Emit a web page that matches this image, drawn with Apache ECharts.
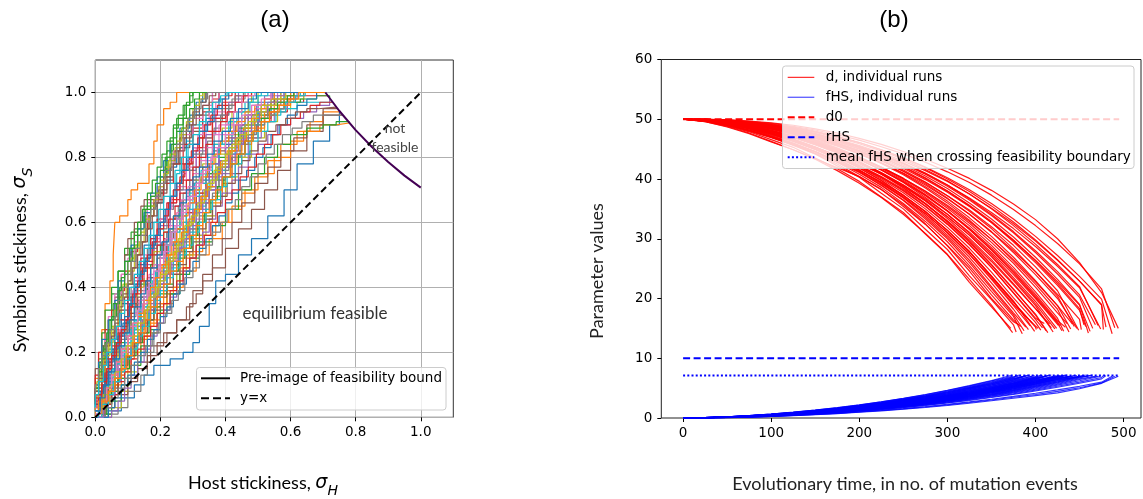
<!DOCTYPE html>
<html><head><meta charset="utf-8">
<script src="https://cdn.jsdelivr.net/npm/echarts@6/dist/echarts.min.js"></script>
<style>html,body{margin:0;padding:0;background:#fff}#c{width:1143px;height:499px}</style>
</head><body><div id="c"></div><script>
// ---------- Panel (a) data: host stickiness (x) vs symbiont stickiness (y), individual runs ----------
const hostRuns = [
 [[0.0,0.0],[0.04,0.02],[0.08,0.06],[0.12,0.1],[0.15,0.13],[0.18,0.16],[0.23,0.18],[0.27,0.2],[0.3,0.23],[0.32,0.28],[0.35,0.35],[0.37,0.42],[0.4,0.44],[0.44,0.5],[0.48,0.55],[0.53,0.62],[0.58,0.7],[0.62,0.78],[0.67,0.85],[0.72,0.9],[0.75,0.94]],
 [[0.0,0.05],[0.01,0.12],[0.02,0.2],[0.03,0.27],[0.045,0.35],[0.055,0.42],[0.06,0.5],[0.075,0.6],[0.1,0.62],[0.11,0.67],[0.13,0.7],[0.165,0.72],[0.18,0.78],[0.19,0.85],[0.21,0.9],[0.23,0.95],[0.25,0.97],[0.26,1.0],[0.707,1.0]],
 [[0.0,0.08],[0.01,0.15],[0.025,0.22],[0.04,0.3],[0.05,0.38],[0.07,0.45],[0.09,0.5],[0.11,0.57],[0.13,0.6],[0.15,0.65],[0.19,0.69],[0.21,0.75],[0.22,0.82],[0.24,0.9],[0.27,0.96],[0.29,1.0],[0.707,1.0]],
 [[0.0,0.02],[0.03,0.08],[0.05,0.15],[0.08,0.22],[0.1,0.28],[0.12,0.35],[0.15,0.4],[0.18,0.48],[0.2,0.54],[0.23,0.6],[0.26,0.67],[0.29,0.73],[0.32,0.8],[0.36,0.86],[0.39,0.92],[0.43,0.97],[0.46,1.0],[0.707,1.0]],
 [[0.01,0.0],[0.03,0.06],[0.06,0.12],[0.09,0.2],[0.12,0.27],[0.15,0.33],[0.18,0.4],[0.21,0.46],[0.24,0.52],[0.27,0.58],[0.3,0.64],[0.33,0.7],[0.37,0.77],[0.41,0.84],[0.45,0.9],[0.5,0.95],[0.54,1.0],[0.707,1.0]],
 [[0.02,0.0],[0.05,0.04],[0.09,0.08],[0.13,0.12],[0.17,0.17],[0.21,0.22],[0.25,0.26],[0.29,0.3],[0.31,0.35],[0.33,0.38],[0.36,0.42],[0.4,0.46],[0.44,0.52],[0.48,0.58],[0.52,0.64],[0.56,0.7],[0.6,0.76],[0.65,0.82],[0.7,0.88],[0.76,0.93]],
 [[0.0,0.06],[0.02,0.12],[0.04,0.2],[0.06,0.27],[0.08,0.33],[0.1,0.38],[0.12,0.44],[0.14,0.5],[0.17,0.55],[0.2,0.6],[0.22,0.66],[0.25,0.71],[0.28,0.77],[0.31,0.83],[0.34,0.88],[0.37,0.94],[0.4,1.0],[0.707,1.0]],
 [[0.03,0.0],[0.07,0.01],[0.1,0.03],[0.14,0.08],[0.16,0.13],[0.18,0.2],[0.2,0.26],[0.22,0.32],[0.25,0.38],[0.28,0.45],[0.3,0.5],[0.33,0.56],[0.36,0.62],[0.39,0.68],[0.42,0.74],[0.46,0.8],[0.5,0.86],[0.54,0.92],[0.58,0.97],[0.62,1.0],[0.707,1.0]],
 [[0.01,0.02],[0.03,0.05],[0.05,0.1],[0.07,0.16],[0.1,0.22],[0.13,0.28],[0.15,0.35],[0.17,0.41],[0.2,0.47],[0.23,0.53],[0.26,0.58],[0.28,0.63],[0.31,0.69],[0.34,0.75],[0.37,0.81],[0.4,0.87],[0.44,0.92],[0.47,0.97],[0.5,1.0],[0.707,1.0]],
 [[0.0,0.04],[0.02,0.09],[0.05,0.14],[0.07,0.2],[0.1,0.26],[0.12,0.32],[0.14,0.39],[0.16,0.45],[0.19,0.5],[0.21,0.56],[0.23,0.62],[0.25,0.68],[0.26,0.75],[0.28,0.8],[0.3,0.85],[0.33,0.9],[0.36,0.95],[0.39,1.0],[0.707,1.0]],
 [[0.0,0.01],[0.02,0.06],[0.04,0.12],[0.07,0.17],[0.09,0.24],[0.12,0.3],[0.14,0.37],[0.17,0.43],[0.2,0.5],[0.22,0.57],[0.25,0.62],[0.28,0.68],[0.31,0.73],[0.35,0.78],[0.38,0.84],[0.42,0.88],[0.46,0.93],[0.5,0.97],[0.55,1.0],[0.707,1.0]],
 [[0.02,0.01],[0.05,0.05],[0.08,0.1],[0.11,0.15],[0.14,0.2],[0.17,0.25],[0.2,0.3],[0.24,0.35],[0.27,0.4],[0.31,0.45],[0.35,0.5],[0.39,0.55],[0.42,0.6],[0.46,0.65],[0.5,0.7],[0.55,0.75],[0.6,0.8],[0.64,0.85],[0.69,0.88],[0.74,0.9],[0.78,0.906]],
 [[0.0,0.1],[0.01,0.18],[0.02,0.26],[0.03,0.33],[0.05,0.4],[0.07,0.45],[0.09,0.52],[0.12,0.58],[0.15,0.62],[0.17,0.68],[0.2,0.74],[0.22,0.8],[0.23,0.86],[0.25,0.92],[0.28,0.97],[0.3,1.0],[0.707,1.0]],
 [[0.01,0.03],[0.03,0.07],[0.06,0.13],[0.08,0.19],[0.11,0.25],[0.13,0.3],[0.16,0.36],[0.19,0.41],[0.22,0.47],[0.25,0.53],[0.28,0.58],[0.31,0.63],[0.34,0.69],[0.38,0.74],[0.42,0.79],[0.46,0.84],[0.5,0.88],[0.54,0.91],[0.59,0.94],[0.64,0.97],[0.7,0.99],[0.715,0.99]],
 [[0.0,0.05],[0.02,0.1],[0.03,0.17],[0.05,0.24],[0.08,0.3],[0.1,0.36],[0.12,0.42],[0.15,0.47],[0.18,0.53],[0.2,0.59],[0.23,0.65],[0.26,0.7],[0.29,0.76],[0.31,0.82],[0.34,0.87],[0.37,0.93],[0.41,0.97],[0.44,1.0],[0.707,1.0]],
 [[0.0,0.08],[0.02,0.15],[0.04,0.22],[0.06,0.3],[0.08,0.37],[0.09,0.44],[0.1,0.5],[0.12,0.55],[0.14,0.6],[0.15,0.65],[0.19,0.67],[0.22,0.69],[0.24,0.73],[0.26,0.78],[0.29,0.83],[0.32,0.88],[0.35,0.93],[0.38,0.97],[0.41,1.0],[0.707,1.0]],
 [[0.01,0.0],[0.03,0.05],[0.05,0.11],[0.08,0.17],[0.11,0.22],[0.13,0.28],[0.16,0.33],[0.19,0.39],[0.22,0.44],[0.25,0.5],[0.28,0.55],[0.31,0.61],[0.34,0.67],[0.37,0.73],[0.4,0.79],[0.43,0.85],[0.46,0.9],[0.49,0.95],[0.52,0.98],[0.56,1.0],[0.707,1.0]],
 [[0.0,0.03],[0.02,0.08],[0.05,0.13],[0.07,0.19],[0.09,0.26],[0.11,0.33],[0.13,0.4],[0.16,0.46],[0.19,0.52],[0.22,0.58],[0.24,0.64],[0.27,0.7],[0.3,0.76],[0.33,0.81],[0.36,0.86],[0.39,0.91],[0.42,0.95],[0.46,0.98],[0.49,1.0],[0.707,1.0]],
 [[0.02,0.0],[0.05,0.03],[0.08,0.08],[0.1,0.14],[0.13,0.2],[0.16,0.26],[0.19,0.32],[0.22,0.38],[0.25,0.44],[0.28,0.5],[0.31,0.56],[0.34,0.62],[0.37,0.68],[0.4,0.74],[0.44,0.8],[0.48,0.86],[0.52,0.91],[0.56,0.95],[0.6,0.98],[0.64,1.0],[0.707,1.0]],
 [[0.0,0.02],[0.03,0.06],[0.06,0.11],[0.09,0.17],[0.12,0.23],[0.15,0.28],[0.18,0.34],[0.21,0.4],[0.24,0.45],[0.27,0.51],[0.3,0.57],[0.32,0.63],[0.35,0.68],[0.38,0.73],[0.41,0.78],[0.44,0.83],[0.48,0.87],[0.52,0.9],[0.57,0.93],[0.62,0.95],[0.68,0.97],[0.73,0.97]],
 [[0.0,0.07],[0.02,0.14],[0.04,0.21],[0.06,0.28],[0.08,0.35],[0.1,0.41],[0.13,0.47],[0.15,0.53],[0.17,0.6],[0.19,0.66],[0.21,0.72],[0.23,0.77],[0.25,0.83],[0.28,0.88],[0.3,0.93],[0.32,0.97],[0.34,1.0],[0.707,1.0]],
 [[0.01,0.01],[0.04,0.05],[0.07,0.09],[0.1,0.14],[0.13,0.19],[0.16,0.24],[0.19,0.29],[0.22,0.35],[0.26,0.4],[0.29,0.46],[0.33,0.51],[0.37,0.56],[0.41,0.6],[0.45,0.64],[0.49,0.69],[0.53,0.74],[0.57,0.79],[0.62,0.84],[0.66,0.88],[0.7,0.91],[0.75,0.94]],
 [[0.0,0.04],[0.02,0.1],[0.04,0.16],[0.06,0.23],[0.09,0.29],[0.11,0.35],[0.14,0.41],[0.17,0.47],[0.2,0.53],[0.23,0.58],[0.26,0.64],[0.29,0.7],[0.32,0.75],[0.36,0.8],[0.4,0.85],[0.44,0.89],[0.48,0.93],[0.53,0.95],[0.58,0.97],[0.63,0.98],[0.68,0.99],[0.72,0.98]],
 [[0.0,0.06],[0.01,0.13],[0.03,0.2],[0.05,0.27],[0.07,0.33],[0.09,0.39],[0.11,0.45],[0.13,0.51],[0.16,0.56],[0.18,0.62],[0.21,0.67],[0.24,0.72],[0.27,0.78],[0.3,0.84],[0.33,0.89],[0.36,0.94],[0.38,0.98],[0.4,1.0],[0.707,1.0]],
 [[0.01,0.02],[0.04,0.07],[0.06,0.13],[0.09,0.18],[0.12,0.24],[0.14,0.3],[0.17,0.35],[0.2,0.41],[0.23,0.47],[0.26,0.52],[0.29,0.58],[0.32,0.64],[0.35,0.7],[0.39,0.75],[0.43,0.81],[0.47,0.86],[0.51,0.91],[0.55,0.95],[0.59,0.98],[0.62,1.0],[0.707,1.0]],
 [[0.03,0.0],[0.06,0.03],[0.1,0.07],[0.13,0.11],[0.16,0.15],[0.19,0.19],[0.22,0.23],[0.25,0.26],[0.28,0.3],[0.3,0.34],[0.33,0.39],[0.36,0.44],[0.39,0.5],[0.42,0.55],[0.45,0.6],[0.49,0.66],[0.53,0.72],[0.57,0.77],[0.61,0.82],[0.65,0.86],[0.7,0.9],[0.745,0.95]],
 [[0.0,0.09],[0.01,0.16],[0.03,0.24],[0.04,0.31],[0.06,0.38],[0.08,0.44],[0.1,0.49],[0.12,0.54],[0.14,0.6],[0.16,0.66],[0.19,0.71],[0.21,0.77],[0.24,0.82],[0.27,0.87],[0.3,0.92],[0.33,0.96],[0.36,1.0],[0.707,1.0]],
 [[0.01,0.0],[0.04,0.04],[0.07,0.09],[0.09,0.15],[0.12,0.21],[0.14,0.27],[0.17,0.32],[0.2,0.38],[0.23,0.43],[0.26,0.49],[0.29,0.54],[0.32,0.6],[0.35,0.66],[0.38,0.71],[0.41,0.76],[0.45,0.82],[0.49,0.87],[0.53,0.92],[0.57,0.96],[0.61,0.98],[0.66,1.0],[0.707,1.0]],
 [[0.0,0.03],[0.02,0.09],[0.04,0.15],[0.07,0.21],[0.09,0.27],[0.11,0.34],[0.13,0.4],[0.15,0.46],[0.18,0.51],[0.21,0.57],[0.24,0.62],[0.27,0.67],[0.3,0.73],[0.33,0.78],[0.36,0.84],[0.39,0.89],[0.42,0.94],[0.45,0.97],[0.48,1.0],[0.707,1.0]],
 [[0.0,0.0],[0.03,0.04],[0.05,0.1],[0.08,0.15],[0.11,0.21],[0.13,0.26],[0.16,0.32],[0.19,0.37],[0.22,0.43],[0.25,0.49],[0.28,0.54],[0.31,0.6],[0.34,0.65],[0.37,0.71],[0.4,0.76],[0.43,0.81],[0.46,0.86],[0.5,0.9],[0.54,0.94],[0.58,0.97],[0.63,0.99],[0.67,1.0],[0.707,1.0]],
 [[0.0,0.1],[0.01,0.17],[0.02,0.24],[0.04,0.3],[0.06,0.36],[0.07,0.42],[0.09,0.48],[0.11,0.53],[0.13,0.58],[0.15,0.63],[0.17,0.69],[0.19,0.74],[0.21,0.79],[0.23,0.84],[0.26,0.89],[0.29,0.93],[0.31,0.97],[0.33,1.0],[0.707,1.0]],
 [[0.0,0.0],[0.03,0.03],[0.06,0.08],[0.09,0.13],[0.12,0.18],[0.15,0.23],[0.18,0.28],[0.21,0.34],[0.24,0.39],[0.27,0.44],[0.3,0.49],[0.33,0.55],[0.36,0.6],[0.39,0.66],[0.42,0.72],[0.45,0.78],[0.48,0.84],[0.52,0.89],[0.56,0.93],[0.6,0.96],[0.64,0.99],[0.68,1.0],[0.707,1.0]],
 [[0.02,0.01],[0.05,0.05],[0.08,0.1],[0.11,0.16],[0.14,0.22],[0.17,0.27],[0.2,0.33],[0.23,0.38],[0.26,0.44],[0.29,0.49],[0.32,0.54],[0.36,0.59],[0.4,0.64],[0.44,0.7],[0.48,0.75],[0.52,0.8],[0.56,0.84],[0.6,0.87],[0.65,0.89],[0.7,0.9],[0.74,0.91],[0.78,0.906]],
 [[0.01,0.05],[0.03,0.11],[0.05,0.18],[0.07,0.24],[0.1,0.3],[0.12,0.37],[0.14,0.43],[0.17,0.49],[0.19,0.55],[0.22,0.61],[0.25,0.66],[0.27,0.72],[0.3,0.78],[0.33,0.83],[0.36,0.88],[0.4,0.92],[0.43,0.96],[0.47,0.99],[0.51,1.0],[0.707,1.0]],
 [[0.0,0.02],[0.02,0.07],[0.05,0.12],[0.07,0.18],[0.1,0.24],[0.13,0.31],[0.15,0.37],[0.18,0.42],[0.21,0.48],[0.24,0.54],[0.27,0.6],[0.29,0.66],[0.32,0.72],[0.35,0.78],[0.38,0.83],[0.41,0.88],[0.44,0.92],[0.48,0.96],[0.52,0.99],[0.57,1.0],[0.707,1.0]],
 [[0.0,0.04],[0.03,0.09],[0.05,0.15],[0.08,0.2],[0.1,0.26],[0.13,0.32],[0.16,0.37],[0.19,0.43],[0.21,0.49],[0.24,0.55],[0.27,0.61],[0.3,0.67],[0.33,0.72],[0.36,0.77],[0.4,0.82],[0.43,0.86],[0.47,0.9],[0.51,0.93],[0.55,0.96],[0.6,0.98],[0.65,1.0],[0.707,1.0]],
 [[0,0.03],[0.01,0.07],[0.025,0.1],[0.035,0.15],[0.05,0.19],[0.065,0.22],[0.075,0.27],[0.09,0.3],[0.105,0.34],[0.115,0.39],[0.13,0.43],[0.15,0.46],[0.16,0.5],[0.175,0.54],[0.19,0.57],[0.2,0.61],[0.22,0.64],[0.235,0.68],[0.25,0.72],[0.265,0.75],[0.28,0.79],[0.3,0.83],[0.315,0.87],[0.33,0.9],[0.35,0.94],[0.37,0.97],[0.38,1.0],[0.707,1.0]],
 [[0.01,0.0],[0.02,0.04],[0.035,0.08],[0.05,0.12],[0.065,0.16],[0.08,0.2],[0.095,0.24],[0.11,0.27],[0.125,0.31],[0.14,0.35],[0.155,0.39],[0.17,0.42],[0.19,0.46],[0.205,0.5],[0.22,0.54],[0.24,0.57],[0.255,0.61],[0.27,0.65],[0.29,0.69],[0.31,0.73],[0.325,0.77],[0.345,0.81],[0.365,0.85],[0.385,0.89],[0.41,0.93],[0.43,0.96],[0.455,0.99],[0.47,1.0],[0.707,1.0]],
 [[0,0.06],[0.01,0.1],[0.02,0.14],[0.03,0.19],[0.045,0.23],[0.055,0.28],[0.07,0.32],[0.08,0.37],[0.095,0.41],[0.11,0.45],[0.12,0.5],[0.135,0.54],[0.15,0.58],[0.165,0.62],[0.18,0.67],[0.195,0.71],[0.21,0.75],[0.225,0.79],[0.245,0.83],[0.26,0.87],[0.28,0.91],[0.3,0.95],[0.32,0.98],[0.335,1.0],[0.707,1.0]],
 [[0.01,0.01],[0.025,0.05],[0.04,0.09],[0.06,0.12],[0.075,0.16],[0.09,0.19],[0.11,0.23],[0.125,0.27],[0.14,0.3],[0.16,0.34],[0.175,0.38],[0.19,0.42],[0.21,0.45],[0.225,0.49],[0.245,0.53],[0.26,0.57],[0.28,0.6],[0.3,0.64],[0.32,0.68],[0.34,0.72],[0.36,0.76],[0.38,0.8],[0.4,0.84],[0.425,0.87],[0.45,0.91],[0.475,0.94],[0.5,0.97],[0.53,0.99],[0.55,1.0],[0.707,1.0]],
 [[0,0.04],[0.015,0.08],[0.03,0.12],[0.04,0.17],[0.055,0.21],[0.07,0.25],[0.085,0.29],[0.1,0.33],[0.11,0.37],[0.125,0.41],[0.14,0.45],[0.155,0.49],[0.17,0.53],[0.185,0.56],[0.2,0.6],[0.215,0.64],[0.23,0.68],[0.25,0.72],[0.265,0.76],[0.285,0.8],[0.3,0.84],[0.32,0.88],[0.34,0.92],[0.36,0.95],[0.38,0.98],[0.4,1.0],[0.707,1.0]],
 [[0.02,0.0],[0.035,0.03],[0.05,0.07],[0.07,0.1],[0.085,0.14],[0.1,0.18],[0.12,0.21],[0.14,0.25],[0.155,0.29],[0.17,0.33],[0.19,0.36],[0.21,0.4],[0.225,0.44],[0.245,0.48],[0.265,0.51],[0.285,0.55],[0.3,0.59],[0.32,0.63],[0.34,0.67],[0.36,0.71],[0.385,0.75],[0.405,0.79],[0.43,0.82],[0.455,0.86],[0.48,0.89],[0.51,0.92],[0.54,0.95],[0.57,0.97],[0.6,0.99],[0.63,1.0],[0.707,1.0]],
 [[0,0.08],[0.01,0.12],[0.015,0.17],[0.025,0.21],[0.035,0.26],[0.045,0.3],[0.055,0.35],[0.07,0.39],[0.08,0.43],[0.09,0.48],[0.105,0.52],[0.12,0.56],[0.13,0.6],[0.145,0.64],[0.16,0.69],[0.175,0.73],[0.19,0.77],[0.205,0.81],[0.22,0.85],[0.24,0.89],[0.255,0.93],[0.275,0.96],[0.29,0.99],[0.3,1.0],[0.707,1.0]],
 [[0.01,0.02],[0.02,0.06],[0.035,0.1],[0.045,0.14],[0.06,0.18],[0.075,0.22],[0.09,0.26],[0.1,0.3],[0.115,0.34],[0.13,0.38],[0.145,0.42],[0.16,0.46],[0.175,0.5],[0.19,0.54],[0.21,0.58],[0.225,0.62],[0.24,0.66],[0.26,0.7],[0.275,0.74],[0.295,0.78],[0.315,0.82],[0.335,0.86],[0.355,0.9],[0.375,0.93],[0.4,0.96],[0.42,0.99],[0.44,1.0],[0.707,1.0]],
 [[0.015,0.0],[0.03,0.04],[0.045,0.08],[0.06,0.11],[0.08,0.15],[0.095,0.19],[0.11,0.22],[0.13,0.26],[0.145,0.3],[0.16,0.34],[0.18,0.37],[0.195,0.41],[0.21,0.45],[0.23,0.49],[0.25,0.52],[0.265,0.56],[0.285,0.6],[0.3,0.64],[0.32,0.68],[0.34,0.71],[0.36,0.75],[0.38,0.79],[0.4,0.83],[0.42,0.86],[0.445,0.9],[0.47,0.93],[0.495,0.96],[0.52,0.98],[0.545,1.0],[0.707,1.0]],
 [[0,0.05],[0.01,0.09],[0.02,0.13],[0.035,0.17],[0.045,0.22],[0.06,0.26],[0.07,0.3],[0.085,0.34],[0.1,0.38],[0.11,0.42],[0.125,0.46],[0.14,0.5],[0.155,0.54],[0.165,0.58],[0.18,0.62],[0.195,0.66],[0.21,0.7],[0.23,0.74],[0.245,0.78],[0.26,0.82],[0.28,0.86],[0.3,0.9],[0.32,0.94],[0.34,0.97],[0.36,1.0],[0.707,1.0]],
 [[0.005,0.01],[0.02,0.05],[0.03,0.09],[0.045,0.13],[0.06,0.17],[0.075,0.21],[0.09,0.25],[0.105,0.28],[0.12,0.32],[0.135,0.36],[0.15,0.4],[0.165,0.44],[0.18,0.47],[0.2,0.51],[0.215,0.55],[0.23,0.59],[0.25,0.63],[0.265,0.67],[0.285,0.71],[0.3,0.75],[0.32,0.79],[0.34,0.83],[0.36,0.87],[0.38,0.9],[0.405,0.94],[0.43,0.97],[0.45,0.99],[0.47,1.0],[0.707,1.0]],
 [[0.02,0.01],[0.04,0.04],[0.055,0.08],[0.075,0.11],[0.09,0.15],[0.11,0.18],[0.13,0.22],[0.145,0.26],[0.165,0.29],[0.185,0.33],[0.2,0.37],[0.22,0.4],[0.24,0.44],[0.26,0.47],[0.28,0.51],[0.3,0.55],[0.32,0.58],[0.34,0.62],[0.36,0.66],[0.38,0.69],[0.4,0.73],[0.42,0.77],[0.445,0.8],[0.47,0.84],[0.495,0.87],[0.52,0.9],[0.55,0.93],[0.58,0.95],[0.61,0.97],[0.64,0.99],[0.67,1.0],[0.707,1.0]],
 [[0,0.07],[0.005,0.11],[0.015,0.15],[0.025,0.2],[0.04,0.24],[0.05,0.28],[0.06,0.33],[0.075,0.37],[0.085,0.41],[0.1,0.45],[0.11,0.49],[0.125,0.53],[0.14,0.57],[0.155,0.61],[0.17,0.65],[0.185,0.69],[0.2,0.73],[0.215,0.77],[0.23,0.81],[0.25,0.85],[0.265,0.89],[0.285,0.92],[0.305,0.96],[0.32,0.99],[0.33,1.0],[0.707,1.0]],
 [[0.01,0.0],[0.025,0.04],[0.04,0.07],[0.055,0.11],[0.07,0.15],[0.085,0.18],[0.1,0.22],[0.12,0.26],[0.135,0.3],[0.15,0.33],[0.165,0.37],[0.185,0.41],[0.2,0.45],[0.215,0.49],[0.235,0.53],[0.25,0.57],[0.27,0.61],[0.29,0.65],[0.305,0.69],[0.325,0.72],[0.345,0.76],[0.365,0.8],[0.39,0.84],[0.41,0.88],[0.435,0.91],[0.46,0.94],[0.485,0.97],[0.51,0.99],[0.53,1.0],[0.707,1.0]],
 [[0,0.02],[0.015,0.06],[0.025,0.1],[0.04,0.14],[0.05,0.18],[0.065,0.23],[0.08,0.27],[0.09,0.31],[0.105,0.35],[0.12,0.4],[0.135,0.44],[0.15,0.48],[0.165,0.52],[0.18,0.56],[0.195,0.6],[0.21,0.64],[0.23,0.68],[0.245,0.72],[0.265,0.76],[0.28,0.8],[0.3,0.84],[0.32,0.88],[0.345,0.91],[0.365,0.95],[0.39,0.98],[0.41,1.0],[0.707,1.0]],
 [[0.02,0.02],[0.035,0.06],[0.05,0.09],[0.065,0.13],[0.08,0.17],[0.1,0.2],[0.115,0.24],[0.13,0.28],[0.15,0.31],[0.165,0.35],[0.18,0.39],[0.2,0.43],[0.215,0.46],[0.235,0.5],[0.25,0.54],[0.27,0.58],[0.285,0.62],[0.305,0.66],[0.325,0.7],[0.345,0.74],[0.365,0.78],[0.385,0.81],[0.41,0.85],[0.435,0.88],[0.46,0.91],[0.49,0.94],[0.52,0.96],[0.55,0.98],[0.58,1.0],[0.707,1.0]],
 [[0,0.09],[0.01,0.14],[0.02,0.18],[0.03,0.23],[0.04,0.27],[0.05,0.31],[0.065,0.35],[0.075,0.4],[0.09,0.44],[0.1,0.48],[0.115,0.52],[0.13,0.56],[0.14,0.6],[0.155,0.64],[0.17,0.68],[0.185,0.72],[0.2,0.76],[0.215,0.8],[0.235,0.84],[0.25,0.88],[0.27,0.92],[0.29,0.95],[0.305,0.98],[0.32,1.0],[0.707,1.0]],
 [[0.005,0.03],[0.02,0.07],[0.035,0.11],[0.05,0.15],[0.065,0.19],[0.08,0.23],[0.095,0.27],[0.11,0.3],[0.125,0.34],[0.14,0.38],[0.16,0.42],[0.175,0.46],[0.19,0.5],[0.21,0.53],[0.225,0.57],[0.245,0.61],[0.26,0.65],[0.28,0.69],[0.3,0.73],[0.32,0.77],[0.34,0.8],[0.36,0.84],[0.385,0.88],[0.405,0.91],[0.43,0.94],[0.455,0.97],[0.48,0.99],[0.5,1.0],[0.707,1.0]],
 [[0.03,0.0],[0.05,0.02],[0.07,0.05],[0.09,0.09],[0.11,0.13],[0.13,0.17],[0.15,0.21],[0.17,0.25],[0.19,0.29],[0.21,0.33],[0.23,0.37],[0.25,0.41],[0.27,0.45],[0.29,0.49],[0.31,0.53],[0.33,0.57],[0.35,0.61],[0.37,0.65],[0.39,0.69],[0.42,0.73],[0.44,0.77],[0.47,0.81],[0.5,0.84],[0.53,0.87],[0.56,0.9],[0.6,0.92],[0.64,0.94],[0.68,0.96],[0.72,0.98]],
 [[0,0.04],[0.01,0.08],[0.025,0.12],[0.035,0.16],[0.05,0.2],[0.06,0.25],[0.075,0.29],[0.09,0.33],[0.1,0.37],[0.115,0.41],[0.13,0.46],[0.145,0.5],[0.16,0.54],[0.175,0.58],[0.19,0.62],[0.205,0.66],[0.22,0.7],[0.24,0.74],[0.255,0.78],[0.275,0.82],[0.295,0.86],[0.31,0.9],[0.33,0.93],[0.35,0.96],[0.37,0.99],[0.385,1.0],[0.707,1.0]],
 [[0.01,0.01],[0.025,0.05],[0.04,0.08],[0.055,0.12],[0.07,0.16],[0.085,0.2],[0.1,0.24],[0.115,0.28],[0.13,0.32],[0.145,0.35],[0.16,0.39],[0.18,0.43],[0.195,0.47],[0.21,0.51],[0.23,0.55],[0.245,0.59],[0.265,0.63],[0.28,0.67],[0.3,0.71],[0.32,0.75],[0.34,0.79],[0.36,0.83],[0.38,0.87],[0.4,0.9],[0.425,0.94],[0.45,0.97],[0.47,0.99],[0.49,1.0],[0.707,1.0]],
 [[0,0.06],[0.01,0.1],[0.02,0.15],[0.035,0.19],[0.045,0.23],[0.06,0.27],[0.07,0.31],[0.085,0.36],[0.1,0.4],[0.11,0.44],[0.125,0.48],[0.14,0.52],[0.155,0.56],[0.17,0.6],[0.185,0.64],[0.2,0.68],[0.215,0.72],[0.235,0.76],[0.25,0.8],[0.27,0.84],[0.285,0.88],[0.305,0.92],[0.325,0.95],[0.345,0.98],[0.36,1.0],[0.707,1.0]],
 [[0.015,0.01],[0.03,0.04],[0.045,0.08],[0.06,0.12],[0.08,0.15],[0.095,0.19],[0.11,0.23],[0.13,0.27],[0.145,0.3],[0.16,0.34],[0.18,0.38],[0.195,0.42],[0.215,0.45],[0.23,0.49],[0.25,0.53],[0.27,0.57],[0.29,0.6],[0.305,0.64],[0.325,0.68],[0.345,0.72],[0.365,0.76],[0.39,0.79],[0.41,0.83],[0.435,0.86],[0.46,0.9],[0.485,0.93],[0.51,0.96],[0.54,0.98],[0.57,1.0],[0.707,1.0]],
 [[0,0.03],[0.01,0.07],[0.025,0.11],[0.035,0.16],[0.05,0.2],[0.065,0.24],[0.075,0.28],[0.09,0.32],[0.105,0.36],[0.12,0.4],[0.135,0.44],[0.15,0.48],[0.165,0.52],[0.18,0.56],[0.195,0.6],[0.21,0.64],[0.23,0.68],[0.245,0.72],[0.265,0.76],[0.285,0.8],[0.3,0.84],[0.32,0.87],[0.34,0.91],[0.36,0.94],[0.385,0.97],[0.405,0.99],[0.42,1.0],[0.707,1.0]],
 [[0.02,0.0],[0.04,0.03],[0.06,0.06],[0.08,0.1],[0.1,0.13],[0.12,0.17],[0.14,0.2],[0.16,0.24],[0.18,0.27],[0.2,0.31],[0.22,0.34],[0.24,0.38],[0.26,0.41],[0.28,0.45],[0.3,0.48],[0.32,0.52],[0.34,0.55],[0.36,0.59],[0.38,0.62],[0.4,0.66],[0.42,0.69],[0.44,0.73],[0.465,0.76],[0.49,0.8],[0.515,0.83],[0.54,0.87],[0.565,0.9],[0.59,0.93],[0.62,0.96],[0.65,0.98],[0.68,1.0],[0.707,1.0]],
 [[0.01,0.02],[0.03,0.05],[0.05,0.09],[0.065,0.13],[0.08,0.17],[0.1,0.21],[0.115,0.25],[0.13,0.29],[0.15,0.32],[0.17,0.36],[0.185,0.4],[0.205,0.43],[0.225,0.47],[0.245,0.5],[0.265,0.54],[0.285,0.57],[0.305,0.61],[0.325,0.64],[0.345,0.68],[0.37,0.71],[0.39,0.75],[0.415,0.78],[0.44,0.82],[0.465,0.85],[0.49,0.88],[0.52,0.91],[0.55,0.94],[0.58,0.96],[0.61,0.98],[0.64,1.0],[0.707,1.0]],
 [[0.02,0.01],[0.035,0.04],[0.05,0.08],[0.07,0.12],[0.09,0.15],[0.105,0.19],[0.125,0.23],[0.145,0.26],[0.165,0.3],[0.18,0.34],[0.2,0.38],[0.22,0.41],[0.24,0.45],[0.255,0.49],[0.275,0.52],[0.295,0.56],[0.315,0.6],[0.335,0.63],[0.355,0.67],[0.375,0.71],[0.395,0.74],[0.415,0.78],[0.44,0.81],[0.46,0.85],[0.485,0.88],[0.51,0.92],[0.535,0.95],[0.56,0.97],[0.59,0.99],[0.61,1.0],[0.707,1.0]],
 [[0.03,0.01],[0.05,0.04],[0.07,0.07],[0.09,0.11],[0.11,0.14],[0.13,0.18],[0.15,0.21],[0.17,0.25],[0.19,0.28],[0.21,0.32],[0.23,0.35],[0.25,0.39],[0.27,0.42],[0.29,0.46],[0.31,0.49],[0.335,0.53],[0.355,0.56],[0.375,0.6],[0.4,0.63],[0.42,0.67],[0.445,0.7],[0.47,0.74],[0.495,0.77],[0.52,0.81],[0.545,0.84],[0.57,0.87],[0.6,0.9],[0.63,0.92],[0.66,0.94],[0.69,0.96],[0.73,0.97]],
 [[0.01,0.0],[0.025,0.04],[0.04,0.07],[0.06,0.11],[0.075,0.15],[0.095,0.18],[0.11,0.22],[0.13,0.26],[0.145,0.3],[0.165,0.33],[0.18,0.37],[0.2,0.41],[0.22,0.44],[0.235,0.48],[0.255,0.52],[0.275,0.55],[0.29,0.59],[0.31,0.63],[0.33,0.66],[0.35,0.7],[0.37,0.74],[0.39,0.77],[0.41,0.81],[0.435,0.84],[0.455,0.88],[0.48,0.91],[0.505,0.94],[0.53,0.97],[0.56,0.99],[0.58,1.0],[0.707,1.0]],
 [[0.02,0.02],[0.04,0.05],[0.06,0.09],[0.08,0.12],[0.1,0.16],[0.12,0.19],[0.14,0.23],[0.16,0.26],[0.18,0.3],[0.2,0.33],[0.22,0.37],[0.24,0.4],[0.26,0.44],[0.28,0.47],[0.3,0.51],[0.32,0.54],[0.34,0.58],[0.36,0.61],[0.385,0.65],[0.405,0.68],[0.43,0.72],[0.45,0.75],[0.475,0.79],[0.5,0.82],[0.525,0.85],[0.555,0.88],[0.585,0.9],[0.615,0.92],[0.65,0.94],[0.685,0.95],[0.74,0.955]],
 [[0.0,0.01],[0.02,0.05],[0.035,0.09],[0.05,0.13],[0.065,0.17],[0.08,0.21],[0.1,0.25],[0.115,0.29],[0.13,0.33],[0.15,0.37],[0.165,0.41],[0.18,0.45],[0.2,0.49],[0.215,0.53],[0.235,0.57],[0.25,0.61],[0.27,0.65],[0.29,0.68],[0.31,0.72],[0.33,0.76],[0.355,0.8],[0.375,0.83],[0.4,0.87],[0.425,0.9],[0.45,0.93],[0.48,0.96],[0.51,0.98],[0.54,1.0],[0.707,1.0]],
 [[0.03,0.0],[0.05,0.03],[0.07,0.06],[0.09,0.09],[0.11,0.12],[0.13,0.16],[0.155,0.19],[0.175,0.22],[0.195,0.26],[0.215,0.29],[0.235,0.32],[0.255,0.36],[0.275,0.39],[0.3,0.43],[0.32,0.46],[0.34,0.5],[0.36,0.53],[0.385,0.57],[0.405,0.6],[0.43,0.64],[0.45,0.67],[0.475,0.71],[0.5,0.74],[0.525,0.78],[0.55,0.81],[0.575,0.84],[0.605,0.87],[0.635,0.89],[0.67,0.91],[0.71,0.93],[0.76,0.93]],
 [[0.01,0.03],[0.025,0.07],[0.045,0.1],[0.06,0.14],[0.08,0.18],[0.095,0.22],[0.115,0.25],[0.13,0.29],[0.15,0.33],[0.165,0.37],[0.185,0.4],[0.2,0.44],[0.22,0.48],[0.24,0.51],[0.255,0.55],[0.275,0.59],[0.295,0.62],[0.315,0.66],[0.335,0.7],[0.355,0.73],[0.375,0.77],[0.4,0.81],[0.42,0.84],[0.445,0.87],[0.47,0.91],[0.495,0.94],[0.525,0.96],[0.555,0.98],[0.585,1.0],[0.707,1.0]],
 [[0.02,0.0],[0.04,0.04],[0.055,0.07],[0.075,0.11],[0.09,0.14],[0.11,0.18],[0.13,0.21],[0.145,0.25],[0.165,0.28],[0.185,0.32],[0.2,0.36],[0.22,0.39],[0.24,0.43],[0.26,0.46],[0.28,0.5],[0.3,0.53],[0.32,0.57],[0.34,0.6],[0.36,0.64],[0.385,0.67],[0.405,0.71],[0.43,0.74],[0.45,0.78],[0.475,0.81],[0.5,0.85],[0.53,0.88],[0.555,0.91],[0.585,0.94],[0.615,0.97],[0.645,0.99],[0.67,1.0],[0.707,1.0]],
 [[0.0,0.02],[0.015,0.06],[0.03,0.1],[0.045,0.14],[0.06,0.18],[0.075,0.22],[0.09,0.26],[0.105,0.3],[0.12,0.34],[0.14,0.38],[0.155,0.42],[0.17,0.46],[0.19,0.5],[0.205,0.54],[0.225,0.58],[0.24,0.62],[0.26,0.66],[0.28,0.7],[0.3,0.74],[0.32,0.77],[0.345,0.81],[0.365,0.85],[0.39,0.88],[0.415,0.92],[0.44,0.95],[0.47,0.98],[0.495,1.0],[0.707,1.0]],
 [[0.02,0.01],[0.04,0.05],[0.06,0.08],[0.08,0.12],[0.095,0.15],[0.115,0.19],[0.135,0.23],[0.155,0.26],[0.17,0.3],[0.19,0.34],[0.21,0.37],[0.23,0.41],[0.25,0.45],[0.27,0.48],[0.29,0.52],[0.31,0.56],[0.33,0.59],[0.35,0.63],[0.37,0.67],[0.39,0.7],[0.415,0.74],[0.435,0.78],[0.46,0.81],[0.485,0.85],[0.51,0.88],[0.535,0.91],[0.565,0.94],[0.595,0.96],[0.625,0.98],[0.66,1.0],[0.707,1.0]]
];
const boundCurve = [[0.707,1.0],[0.75,0.943],[0.8,0.884],[0.85,0.832],[0.9,0.786],[0.95,0.744],[1.0,0.707]];
const diagonal = [[0,0],[1,1]];
const ticksA = [0,0.2,0.4,0.6,0.8,1.0];

// ---------- Panel (b) data: parameter values vs evolutionary time ----------
const sampleTimes = [0,25,50,75,100,125,150,175,200,225,250,275,300,325,350,375,400,425,450,475];
const runEnds = [372,378,381,385,389,392,396,399,403,406,410,414,418,422,426,430,434,438,442,447,452,457,462,468,474,480,487,494,
                 374,383,387,394,401,408,412,416,420,424,428,432,436,440,444,449,455,460,465,471,477,490];
const dEnd = [15.0,14.4,15.6,14.1,15.2,14.8,15.9,14.5,15.0,14.7,15.8,14.3,15.1,14.9,15.5,14.6,15.2,14.4,15.7,15.0,14.8,15.3,14.5,15.6,14.9,15.2,14.1,15.0,
              14.3,15.3,14.6,15.4,14.8,15.1,14.6,15.7,14.4,15.0,15.4,14.5,15.8,14.9,15.3,14.7,15.6,14.2,15.0,15.5,14.8,15.1];
const fEnd = [7.1,7.0,7.2,6.9,7.1,7.2,7.0,7.1,6.9,7.2,7.0,7.1,7.2,6.9,7.0,7.1,7.2,7.0,6.9,7.1,7.0,7.2,7.1,7.0,7.0,7.1,7.0,7.0,
              7.0,7.1,7.0,7.2,7.0,7.1,7.0,7.2,6.9,7.1,7.1,7.0,7.2,7.0,7.1,6.9,7.1,7.0,7.2,7.0,7.1,7.0];
const dRuns = [
 [50,49.7,48.9,47.9,46.6,45.3,43.5,41.7,39.6,37.0,34.4,30.8,27.3,22.7,18.6],
 [50,49.8,49.1,48.2,47.0,45.6,44.2,42.2,40.3,37.6,35.0,31.6,28.2,23.8,19.8,15.6],
 [50,49.6,48.7,47.6,46.2,44.9,43.4,41.9,40.4,38.2,35.7,32.5,28.8,24.6,20.0,16.1],
 [50,49.9,49.2,48.4,47.3,46.0,44.6,42.8,40.8,38.6,35.9,32.9,29.5,25.5,21.2,17.0],
 [50,49.7,49.0,48.0,46.9,45.7,44.3,42.8,41.1,39.0,36.5,33.6,30.3,26.4,22.0,17.6],
 [50,49.8,49.3,48.6,47.6,46.4,45.0,43.4,41.5,39.3,36.8,33.9,30.6,26.9,22.6,18.2],
 [50,49.7,49.1,48.2,47.1,45.9,44.6,43.1,41.4,39.5,37.3,34.6,31.4,27.8,23.7,19.4],
 [50,49.9,49.4,48.7,47.8,46.7,45.3,43.7,41.9,39.8,37.3,34.5,31.4,27.9,23.8,19.6],
 [50,49.8,49.3,48.5,47.5,46.3,44.9,43.3,41.5,39.4,37.0,34.2,31.0,27.4,23.4,19.0,15.4],
 [50,49.9,49.5,48.8,47.9,46.7,45.4,43.9,42.1,40.0,37.7,35.0,31.9,28.4,24.4,20.1,16.0],
 [50,49.7,49.2,48.4,47.4,46.3,45.0,43.6,42.0,40.2,38.0,35.4,32.4,29.0,25.2,21.0,16.7],
 [50,49.9,49.6,49.0,48.2,47.2,46.0,44.6,42.9,40.9,38.6,35.9,32.8,29.4,25.6,21.5,17.4],
 [50,49.8,49.3,48.6,47.7,46.6,45.3,43.9,42.3,40.4,38.3,35.8,33.0,29.8,26.2,22.3,18.3],
 [50,49.9,49.5,48.9,48.1,47.1,45.9,44.5,42.9,41.1,39.0,36.5,33.7,30.6,27.1,23.2,19.1],
 [50,49.8,49.4,48.7,47.9,46.9,45.7,44.3,42.8,41.0,39.0,36.7,34.1,31.1,27.7,24.0,20.0],
 [50,49.9,49.6,49.1,48.4,47.5,46.4,45.1,43.6,41.8,39.8,37.4,34.7,31.6,28.1,24.3,20.2,15.9],
 [50,49.9,49.5,48.9,48.1,47.2,46.1,44.8,43.3,41.6,39.6,37.3,34.7,31.8,28.5,24.8,20.7,16.3],
 [50,50,49.7,49.2,48.6,47.8,46.8,45.6,44.2,42.6,40.7,38.5,36.0,33.1,29.9,26.3,22.4,18.2],
 [50,49.8,49.4,48.8,48.0,47.1,46.1,44.9,43.5,41.9,40.1,38.0,35.6,32.9,29.9,26.5,22.8,18.8],
 [50,49.9,49.7,49.2,48.6,47.9,47.0,45.9,44.6,43.1,41.3,39.2,36.8,34.1,31.1,27.7,24.0,20.0],
 [50,49.9,49.6,49.1,48.4,47.6,46.6,45.5,44.2,42.7,41.0,39.0,36.7,34.1,31.2,28.0,24.5,20.7,16.5],
 [50,50,49.8,49.4,48.9,48.2,47.3,46.3,45.1,43.7,42.1,40.2,38.0,35.5,32.7,29.5,26.0,22.2,18.0],
 [50,49.9,49.7,49.3,48.7,48.0,47.1,46.0,44.8,43.4,41.8,39.9,37.8,35.4,32.7,29.7,26.4,22.8,18.9],
 [50,50,49.8,49.5,49.0,48.4,47.6,46.6,45.5,44.2,42.7,41.0,39.0,36.7,34.1,31.2,28.0,24.5,20.6],
 [50,49.9,49.7,49.4,48.9,48.2,47.4,46.5,45.4,44.1,42.6,40.9,39.0,36.8,34.4,31.7,28.7,25.4,21.8],
 [50,50,49.9,49.6,49.2,48.7,48.0,47.1,46.1,44.9,43.5,41.9,40.0,37.9,35.5,32.8,29.8,26.5,22.9,18.9],
 [50,50,49.8,49.5,49.1,48.6,47.9,47.1,46.1,44.9,43.6,42.0,40.2,38.2,35.9,33.3,30.4,27.2,23.7,19.9],
 [50,50,49.9,49.7,49.4,49.0,48.4,47.7,46.8,45.8,44.6,43.3,41.8,40.1,38.1,35.8,33.2,30.0,26.0,21.0],
 [50,49.6,48.8,47.7,46.3,44.9,43.3,41.4,39.3,36.9,34.1,30.9,27.4,23.2,18.9],
 [50,49.8,49.0,48.1,47.1,45.8,44.2,42.5,40.4,38.3,35.4,32.4,28.9,25.1,20.6,16.4],
 [50,49.9,49.3,48.4,47.2,46.0,44.6,43.0,41.2,38.9,36.4,33.3,30.0,26.0,21.7,17.3],
 [50,49.7,49.0,48.1,47.0,45.8,44.5,42.9,41.2,39.2,36.9,34.2,31.0,27.4,23.2,18.8],
 [50,49.9,49.4,48.7,47.7,46.6,45.2,43.6,41.8,39.7,37.2,34.5,31.4,27.8,23.7,19.4,15.2],
 [50,49.8,49.3,48.6,47.6,46.5,45.2,43.8,42.2,40.3,38.1,35.5,32.5,29.1,25.2,20.9,16.5],
 [50,49.8,49.4,48.8,48.0,47.0,45.8,44.4,42.7,40.8,38.5,35.9,32.9,29.6,25.7,21.6,17.2],
 [50,49.9,49.5,48.9,48.0,47.0,45.9,44.5,42.9,41.0,38.8,36.3,33.4,30.1,26.5,22.5,18.3],
 [50,49.7,49.2,48.5,47.6,46.5,45.3,44.0,42.5,40.8,38.8,36.4,33.7,30.6,27.0,23.0,18.8],
 [50,49.9,49.6,49.0,48.3,47.4,46.3,44.9,43.3,41.5,39.4,36.9,34.1,30.9,27.4,23.5,19.5],
 [50,49.9,49.5,48.8,48.0,47.1,46.0,44.7,43.2,41.5,39.5,37.2,34.6,31.6,28.2,24.5,20.4,16.1],
 [50,50,49.7,49.2,48.5,47.6,46.5,45.2,43.7,42.0,40.0,37.7,35.1,32.2,28.9,25.2,21.1,16.7],
 [50,49.8,49.4,48.8,48.0,47.2,46.2,45.0,43.6,42.0,40.1,37.9,35.4,32.6,29.4,25.9,21.9,17.6],
 [50,49.9,49.6,49.1,48.5,47.7,46.8,45.7,44.3,42.7,40.9,38.7,36.3,33.5,30.4,26.9,23.0,18.8],
 [50,50,49.7,49.3,48.7,48.0,47.1,46.0,44.7,43.2,41.5,39.5,37.2,34.6,31.7,28.3,24.5,20.4],
 [50,49.9,49.6,49.1,48.5,47.8,46.9,45.8,44.5,43.0,41.3,39.4,37.2,34.8,32.0,28.9,25.3,21.3],
 [50,49.9,49.7,49.3,48.8,48.1,47.2,46.2,45.0,43.6,42.0,40.1,38.0,35.6,32.9,29.8,26.3,22.5,18.3],
 [50,50,49.8,49.5,49.0,48.3,47.5,46.5,45.3,43.9,42.3,40.5,38.4,36.0,33.3,30.3,26.9,23.2,19.0],
 [50,49.9,49.7,49.4,48.9,48.2,47.4,46.4,45.3,44.0,42.5,40.8,38.8,36.5,33.9,31.0,27.7,24.1,20.2],
 [50,50,49.8,49.5,49.1,48.5,47.8,46.9,45.9,44.7,43.3,41.6,39.7,37.5,35.0,32.2,29.1,25.7,22.0],
 [50,49.9,49.8,49.5,49.0,48.4,47.6,46.7,45.6,44.4,43.0,41.4,39.6,37.5,35.1,32.5,29.6,26.4,22.9,19.0],
 [50,50,49.9,49.6,49.3,48.8,48.2,47.4,46.5,45.4,44.2,42.8,41.2,39.4,37.3,34.9,32.2,29.2,25.8,21.6]
];
const fRuns = [
 [0,0.08,0.22,0.42,0.68,0.98,1.33,1.74,2.2,2.72,3.3,3.94,4.65,5.42,6.25],
 [0,0.07,0.2,0.4,0.65,0.94,1.28,1.68,2.13,2.63,3.2,3.82,4.5,5.25,6.05,6.9],
 [0,0.06,0.19,0.38,0.62,0.9,1.24,1.63,2.07,2.57,3.12,3.73,4.4,5.13,5.93,6.8],
 [0,0.07,0.2,0.38,0.61,0.88,1.2,1.57,2.0,2.48,3.02,3.62,4.28,5.0,5.78,6.62],
 [0,0.06,0.18,0.36,0.59,0.86,1.17,1.53,1.95,2.42,2.95,3.54,4.19,4.9,5.67,6.5],
 [0,0.06,0.18,0.35,0.57,0.84,1.15,1.5,1.91,2.37,2.89,3.47,4.11,4.81,5.57,6.4],
 [0,0.06,0.17,0.34,0.56,0.82,1.12,1.47,1.87,2.32,2.83,3.4,4.03,4.72,5.47,6.28],
 [0,0.05,0.16,0.33,0.55,0.8,1.1,1.44,1.83,2.27,2.77,3.33,3.95,4.63,5.37,6.17],
 [0,0.05,0.16,0.32,0.53,0.78,1.07,1.4,1.78,2.21,2.7,3.25,3.86,4.53,5.26,6.05,6.85],
 [0,0.05,0.15,0.31,0.52,0.76,1.05,1.38,1.75,2.17,2.65,3.19,3.79,4.45,5.17,5.95,6.8],
 [0,0.05,0.15,0.3,0.5,0.74,1.02,1.34,1.71,2.12,2.59,3.12,3.71,4.36,5.07,5.84,6.67],
 [0,0.05,0.14,0.29,0.49,0.72,1.0,1.31,1.67,2.08,2.54,3.06,3.64,4.28,4.98,5.74,6.56],
 [0,0.04,0.14,0.29,0.48,0.71,0.98,1.28,1.63,2.03,2.48,2.99,3.56,4.19,4.88,5.63,6.44],
 [0,0.04,0.13,0.28,0.47,0.69,0.96,1.26,1.6,1.99,2.43,2.93,3.49,4.11,4.79,5.53,6.33],
 [0,0.04,0.13,0.27,0.46,0.68,0.94,1.23,1.57,1.95,2.38,2.87,3.42,4.03,4.7,5.43,6.22],
 [0,0.04,0.13,0.27,0.45,0.67,0.92,1.21,1.54,1.91,2.33,2.81,3.35,3.95,4.61,5.33,6.11,6.95],
 [0,0.04,0.12,0.26,0.44,0.65,0.9,1.19,1.51,1.88,2.29,2.76,3.29,3.88,4.53,5.24,6.01,6.84],
 [0,0.04,0.12,0.25,0.43,0.64,0.88,1.16,1.48,1.84,2.25,2.71,3.23,3.81,4.45,5.15,5.91,6.73],
 [0,0.04,0.12,0.25,0.42,0.62,0.86,1.14,1.45,1.8,2.2,2.65,3.16,3.73,4.36,5.05,5.8,6.61],
 [0,0.03,0.11,0.24,0.41,0.61,0.84,1.11,1.42,1.76,2.15,2.59,3.09,3.65,4.27,4.95,5.69,6.49],
 [0,0.03,0.11,0.23,0.4,0.59,0.82,1.09,1.39,1.73,2.11,2.54,3.03,3.58,4.19,4.86,5.59,6.38,6.9],
 [0,0.03,0.11,0.23,0.39,0.58,0.8,1.06,1.35,1.68,2.05,2.47,2.94,3.47,4.06,4.71,5.42,6.19,6.95],
 [0,0.03,0.1,0.22,0.38,0.56,0.78,1.03,1.32,1.64,2.0,2.4,2.86,3.37,3.94,4.57,5.26,6.01,6.82],
 [0,0.03,0.1,0.21,0.36,0.54,0.75,0.99,1.27,1.58,1.93,2.32,2.76,3.25,3.8,4.4,5.06,5.78,6.56],
 [0,0.03,0.09,0.2,0.34,0.51,0.71,0.94,1.2,1.5,1.84,2.22,2.64,3.11,3.63,4.2,4.82,5.5,6.24],
 [0,0.02,0.08,0.18,0.31,0.47,0.66,0.88,1.13,1.42,1.74,2.1,2.5,2.94,3.43,3.96,4.53,5.15,5.82,6.55],
 [0,0.02,0.07,0.16,0.28,0.43,0.61,0.82,1.05,1.31,1.6,1.93,2.3,2.7,3.14,3.62,4.14,4.7,5.3,6.0],
 [0,0.02,0.06,0.14,0.25,0.39,0.55,0.74,0.95,1.19,1.46,1.76,2.1,2.47,2.88,3.3,3.75,4.2,4.9,5.8],
 [0,0.08,0.21,0.41,0.67,0.97,1.32,1.72,2.18,2.7,3.27,3.9,4.6,5.36,6.18],
 [0,0.07,0.19,0.38,0.62,0.89,1.22,1.6,2.03,2.52,3.07,3.68,4.35,5.08,5.87,6.72],
 [0,0.06,0.19,0.37,0.6,0.87,1.19,1.55,1.97,2.45,2.99,3.58,4.24,4.96,5.74,6.58],
 [0,0.06,0.18,0.35,0.57,0.83,1.14,1.49,1.89,2.34,2.86,3.44,4.07,4.77,5.52,6.34],
 [0,0.05,0.16,0.32,0.54,0.79,1.08,1.42,1.8,2.24,2.74,3.29,3.9,4.58,5.31,6.11,6.95],
 [0,0.05,0.15,0.3,0.51,0.75,1.03,1.36,1.73,2.15,2.62,3.15,3.75,4.4,5.12,5.9,6.73],
 [0,0.05,0.14,0.3,0.5,0.73,1.01,1.32,1.69,2.1,2.56,3.09,3.67,4.32,5.03,5.79,6.61],
 [0,0.04,0.14,0.29,0.48,0.71,0.99,1.3,1.65,2.05,2.51,3.02,3.6,4.23,4.93,5.68,6.5],
 [0,0.04,0.13,0.28,0.47,0.7,0.97,1.27,1.62,2.01,2.46,2.96,3.52,4.15,4.84,5.58,6.39],
 [0,0.04,0.13,0.28,0.46,0.69,0.95,1.24,1.58,1.97,2.4,2.9,3.45,4.07,4.75,5.48,6.28],
 [0,0.04,0.13,0.27,0.45,0.67,0.93,1.22,1.55,1.93,2.35,2.84,3.38,3.99,4.66,5.38,6.17,7.0],
 [0,0.04,0.12,0.26,0.44,0.66,0.91,1.2,1.53,1.9,2.31,2.78,3.32,3.92,4.57,5.29,6.06,6.9],
 [0,0.04,0.12,0.25,0.43,0.64,0.89,1.17,1.49,1.86,2.27,2.73,3.26,3.84,4.49,5.2,5.96,6.78],
 [0,0.04,0.12,0.25,0.42,0.63,0.87,1.15,1.46,1.82,2.22,2.68,3.19,3.77,4.4,5.1,5.85,6.67],
 [0,0.03,0.11,0.24,0.41,0.62,0.85,1.12,1.43,1.78,2.18,2.62,3.12,3.69,4.31,5.0,5.74,6.55],
 [0,0.03,0.11,0.23,0.4,0.6,0.83,1.1,1.4,1.75,2.13,2.57,3.06,3.61,4.23,4.9,5.64,6.44],
 [0,0.03,0.11,0.23,0.39,0.58,0.81,1.07,1.36,1.7,2.07,2.49,2.97,3.51,4.1,4.76,5.48,6.26,7.0],
 [0,0.03,0.1,0.22,0.38,0.56,0.78,1.04,1.33,1.65,2.02,2.43,2.89,3.41,3.98,4.62,5.32,6.08,6.9],
 [0,0.03,0.1,0.21,0.37,0.55,0.76,1.01,1.29,1.61,1.96,2.36,2.81,3.31,3.87,4.49,5.17,5.91,6.71],
 [0,0.03,0.09,0.2,0.35,0.52,0.73,0.96,1.23,1.54,1.88,2.26,2.69,3.17,3.71,4.3,4.95,5.66,6.43],
 [0,0.02,0.08,0.19,0.32,0.49,0.68,0.91,1.16,1.45,1.78,2.15,2.56,3.01,3.51,4.06,4.66,5.31,6.01,6.78],
 [0,0.02,0.07,0.15,0.27,0.41,0.58,0.78,1.0,1.25,1.53,1.85,2.2,2.59,3.01,3.46,3.94,4.45,5.05,5.85]
];
const d0Value = 50, rHSValue = 10, meanFHSValue = 7.1;
const refSpan = [0, 495];
const ticksB = [0,100,200,300,400,500];

// ---------- build ----------
const tab10 = ['#1f77b4','#ff7f0e','#2ca02c','#d62728','#9467bd','#8c564b','#e377c2','#7f7f7f','#bcbd22','#17becf'];
const series = [];
hostRuns.forEach((run, i) => {
  series.push({type:'line', xAxisIndex:0, yAxisIndex:0, data:run, step: i % 2 ? 'start' : 'end',
    symbol:'none', silent:true, z:2, lineStyle:{width:1.2, color:tab10[i % 10]}});
});
series.push({type:'line', xAxisIndex:0, yAxisIndex:0, data:boundCurve, symbol:'none', silent:true, z:4,
  lineStyle:{width:2, color:'#440154'}});
series.push({type:'line', xAxisIndex:0, yAxisIndex:0, data:diagonal, symbol:'none', silent:true, z:4,
  lineStyle:{width:2, color:'#000', type:[7,4]}});

function runData(vals, end) {
  const pts = vals.map((v, j) => [sampleTimes[j], v]);
  pts.push(end);
  return pts;
}
dRuns.forEach((vals, i) => {
  series.push({type:'line', xAxisIndex:1, yAxisIndex:1, data:runData(vals, [runEnds[i], dEnd[i]]), symbol:'none',
    silent:true, z:2, lineStyle:{width:1.2, color:'#ff0000', opacity:0.9}});
});
fRuns.forEach((vals, i) => {
  series.push({type:'line', xAxisIndex:1, yAxisIndex:1, data:runData(vals, [runEnds[i], fEnd[i]]), symbol:'none',
    silent:true, z:2, lineStyle:{width:1.1, color:'#0000ff', opacity:0.8}});
});
series.push({type:'line', xAxisIndex:1, yAxisIndex:1, data:[[refSpan[0], d0Value],[refSpan[1], d0Value]], symbol:'none', silent:true, z:3,
  lineStyle:{width:2, color:'#ff0000', type:[7,3.5]}});
series.push({type:'line', xAxisIndex:1, yAxisIndex:1, data:[[refSpan[0], rHSValue],[refSpan[1], rHSValue]], symbol:'none', silent:true, z:3,
  lineStyle:{width:2, color:'#0000ff', type:[7,3.5]}});
series.push({type:'line', xAxisIndex:1, yAxisIndex:1, data:[[refSpan[0], meanFHSValue],[refSpan[1], meanFHSValue]], symbol:'none', silent:true, z:3,
  lineStyle:{width:2, color:'#0000ff', type:[2,2.2]}});

const tickFont = {fontFamily:'DejaVu Sans', fontSize:13.5, color:'#000'};
const G = [];
function txt(x, y, text, font, extra) {
  G.push({type:'text', x, y, z:120, style:Object.assign({text, font, fill:'#000', textAlign:'center', textVerticalAlign:'middle'}, extra || {})});
}
function seg(x1, y1, x2, y2, stroke, lw, dash) {
  G.push({type:'line', z:120, shape:{x1, y1, x2, y2}, style:{stroke, lineWidth:lw, lineDash:dash || null}});
}
txt(275, 20, '(a)', '24px "Liberation Sans"');
txt(894, 20, '(b)', '24px "Liberation Sans"');
const richTitle = {
  m:{fontFamily:'Lato', fontSize:18, color:'#222', lineHeight:30, verticalAlign:'middle'},
  s:{fontFamily:'DejaVu Sans', fontStyle:'italic', fontSize:19, color:'#222', lineHeight:30, verticalAlign:'middle'},
  h:{fontFamily:'DejaVu Sans', fontStyle:'italic', fontSize:14, color:'#222', lineHeight:14, verticalAlign:'bottom'}
};
G.push({type:'text', x:263, y:483, z:120, style:{text:'{m|Host stickiness, }{s|σ}{h|H}', rich:richTitle, textAlign:'center', textVerticalAlign:'middle'}});
G.push({type:'text', x:20, y:260, rotation:Math.PI/2, z:120, style:{text:'{m|Symbiont stickiness, }{s|σ}{h|S}', rich:richTitle, textAlign:'center', textVerticalAlign:'middle'}});
txt(905, 484, 'Evolutionary time, in no. of mutation events', '18px Lato', {fill:'#222'});
G.push({type:'text', x:597, y:271, rotation:Math.PI/2, z:120, style:{text:'Parameter values', font:'18px Lato', fill:'#222', textAlign:'center', textVerticalAlign:'middle'}});
txt(315, 314, 'equilibrium feasible', '17px Lato', {fill:'#333'});
txt(395, 128, 'not', '14px Lato', {fill:'#444'});
txt(395, 147, 'feasible', '14px Lato', {fill:'#444'});
G.push({type:'rect', z:110, shape:{x:196.5, y:367.5, width:249.5, height:42.5, r:3}, style:{fill:'rgba(255,255,255,0.8)', stroke:'#cccccc', lineWidth:1}});
seg(201, 378.3, 230, 378.3, '#000', 2);
seg(201, 398.3, 230, 398.3, '#000', 2, [8,4]);
txt(240, 378.3, 'Pre-image of feasibility bound', '13.5px "DejaVu Sans"', {textAlign:'left'});
txt(240, 398.3, 'y=x', '13.5px "DejaVu Sans"', {textAlign:'left'});
G.push({type:'rect', z:110, shape:{x:782.5, y:66, width:351.5, height:102.5, r:3}, style:{fill:'rgba(255,255,255,0.8)', stroke:'#cccccc', lineWidth:1}});
const legB = [
  ['d, individual runs', '#ff0000', 1, null],
  ['fHS, individual runs', 'rgba(0,0,255,0.6)', 1.4, null],
  ['d0', '#ff0000', 2, [7,3.5]],
  ['rHS', '#0000ff', 2, [7,3.5]],
  ['mean fHS when crossing feasibility boundary', '#0000ff', 2, [2,2.2]]
];
legB.forEach((it, k) => {
  const y = 77.3 + 20 * k;
  seg(787.7, y, 814.3, y, it[1], it[2], it[3]);
  txt(825.7, y, it[0], '13.5px "DejaVu Sans"', {textAlign:'left'});
});

const option = {
  animation:false,
  backgroundColor:'#fff',
  grid:[
    {left:95.3, top:60, width:358, height:357.3, show:true, borderColor:'#333', borderWidth:1, backgroundColor:'transparent'},
    {left:661.3, top:59.5, width:479.7, height:358.5, show:true, borderColor:'#222', borderWidth:1, backgroundColor:'transparent'}
  ],
  xAxis:[
    {gridIndex:0, type:'value', min:0, max:1.1, interval:0.2,
     axisLine:{show:false, onZero:false}, axisTick:{show:true, length:4, customValues:ticksA, lineStyle:{color:'#000'}},
     axisLabel:Object.assign({margin:8, customValues:ticksA, formatter:v => v.toFixed(1)}, tickFont),
     splitLine:{show:true, lineStyle:{color:'#b0b0b0', width:1}}},
    {gridIndex:1, type:'value', min:-24.75, max:519.75,
     axisLine:{show:false, onZero:false}, axisTick:{show:true, length:4, customValues:ticksB, lineStyle:{color:'#000'}},
     axisLabel:Object.assign({margin:8, customValues:ticksB}, tickFont),
     splitLine:{show:false}}
  ],
  yAxis:[
    {gridIndex:0, type:'value', min:0, max:1.1, interval:0.2,
     axisLine:{show:false, onZero:false}, axisTick:{show:true, length:4, customValues:ticksA, lineStyle:{color:'#000'}},
     axisLabel:Object.assign({margin:9, customValues:ticksA, formatter:v => v.toFixed(1)}, tickFont),
     splitLine:{show:true, lineStyle:{color:'#b0b0b0', width:1}}},
    {gridIndex:1, type:'value', min:0, max:60, interval:10,
     axisLine:{show:false, onZero:false}, axisTick:{show:true, length:4, lineStyle:{color:'#000'}},
     axisLabel:Object.assign({margin:9}, tickFont),
     splitLine:{show:false}}
  ],
  series,
  graphic:{elements:G}
};
const chart = echarts.init(document.getElementById('c'), null, {renderer:'canvas'});
chart.setOption(option);
</script></body></html>
